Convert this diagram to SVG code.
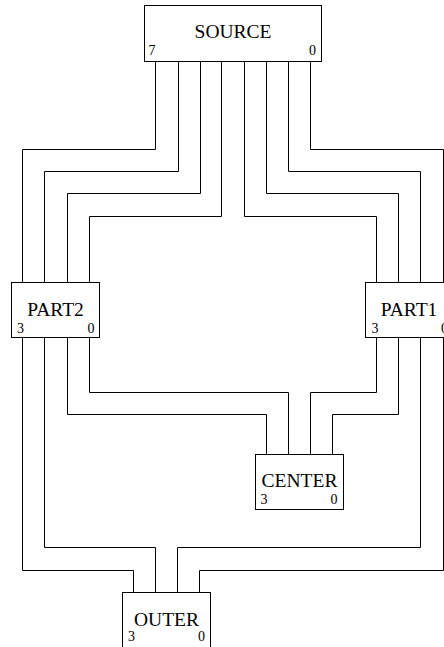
<svg xmlns="http://www.w3.org/2000/svg" width="444" height="647" viewBox="0 0 444 647">
<style>
.box{fill:#fff;stroke:#000;stroke-width:1}
.w{fill:none;stroke:#000;stroke-width:1}
.lbl{font-family:"Liberation Serif",serif;font-size:19.5px;text-anchor:middle;fill:#000}
.d{font-family:"Liberation Serif",serif;font-size:14px;fill:#000}
.e{text-anchor:end}
</style>
<rect width="444" height="647" fill="#fff"/>
<g id="connectors" class="w">
<polyline points="155.5,61.5 155.5,149.5 22.5,149.5 22.5,282.5"/>
<polyline points="178.5,61.5 178.5,171.5 44.5,171.5 44.5,282.5"/>
<polyline points="200.5,61.5 200.5,193.5 67.5,193.5 67.5,282.5"/>
<polyline points="221.5,61.5 221.5,216.5 89.5,216.5 89.5,282.5"/>
<polyline points="244.5,61.5 244.5,216.5 376.5,216.5 376.5,282.5"/>
<polyline points="266.5,61.5 266.5,193.5 398.5,193.5 398.5,282.5"/>
<polyline points="288.5,61.5 288.5,171.5 420.5,171.5 420.5,282.5"/>
<polyline points="310.5,61.5 310.5,149.5 443.5,149.5 443.5,282.5"/>
<polyline points="89.5,337.5 89.5,392.5 288.5,392.5 288.5,454.5"/>
<polyline points="67.5,337.5 67.5,414.5 266.5,414.5 266.5,454.5"/>
<polyline points="376.5,337.5 376.5,392.5 310.5,392.5 310.5,454.5"/>
<polyline points="398.5,337.5 398.5,414.5 332.5,414.5 332.5,454.5"/>
<polyline points="22.5,337.5 22.5,570.5 133.5,570.5 133.5,592.5"/>
<polyline points="44.5,337.5 44.5,547.5 155.5,547.5 155.5,592.5"/>
<polyline points="420.5,337.5 420.5,547.5 177.5,547.5 177.5,592.5"/>
<polyline points="443.5,337.5 443.5,570.5 199.5,570.5 199.5,592.5"/>
</g>
<g id="source">
<rect class="box" x="144.5" y="5.5" width="177" height="56"/>
<text class="lbl" x="233" y="37.5">SOURCE</text>
<text class="d" x="148.5" y="55">7</text>
<text class="d e" x="316" y="55">0</text>
</g>
<g id="part2">
<rect class="box" x="11.5" y="282.5" width="88" height="55"/>
<text class="lbl" x="55.5" y="316">PART2</text>
<text class="d" x="17" y="333">3</text>
<text class="d e" x="94.5" y="333">0</text>
</g>
<g id="part1">
<rect class="box" x="365.5" y="282.5" width="88" height="55"/>
<text class="lbl" x="409" y="316">PART1</text>
<text class="d" x="371.5" y="333">3</text>
<text class="d e" x="448" y="333">0</text>
</g>
<g id="center">
<rect class="box" x="255.5" y="454.5" width="88" height="55"/>
<text class="lbl" x="299.5" y="487">CENTER</text>
<text class="d" x="260.5" y="503.5">3</text>
<text class="d e" x="337.5" y="503.5">0</text>
</g>
<g id="outer">
<rect class="box" x="122.5" y="592.5" width="88" height="55"/>
<text class="lbl" x="166.5" y="626">OUTER</text>
<text class="d" x="128" y="641">3</text>
<text class="d e" x="205" y="641">0</text>
</g>
</svg>
